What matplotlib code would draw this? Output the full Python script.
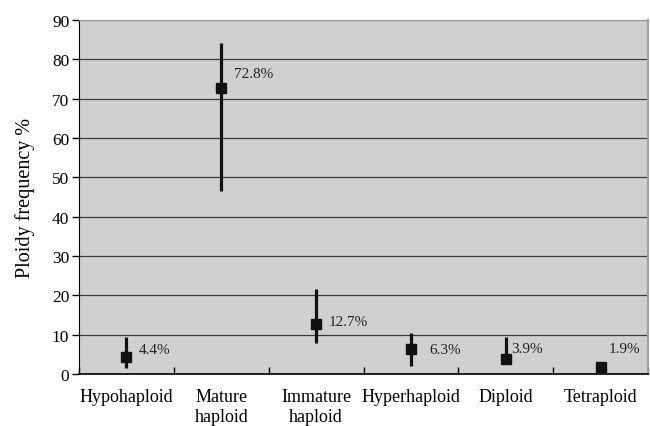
import numpy as np
import matplotlib.pyplot as plt

# data
categories = ['Hypohaploid', 'Mature\nhaploid', 'Immature\nhaploid',
              'Hyperhaploid', 'Diploid', 'Tetraploid']
freq = [4.4, 72.8, 12.7, 6.3, 3.9, 1.9]
low = [1.5, 46.5, 8.0, 2.1, 2.8, 1.2]
high = [9.5, 84.1, 21.6, 10.4, 9.3, 2.6]
labels = ['4.4%', '72.8%', '12.7%', '6.3%', '3.9%', '1.9%']

# label offsets in points (layout only)
lab_dx = [9, 9, 9, 13, 4, 6]
lab_dy = [5, 10, 2, 0, 7, 13]

plt.rcParams['font.family'] = ['Liberation Serif', 'DejaVu Serif']

fig = plt.figure(figsize=(6.5, 4.27), dpi=100)
ax = fig.add_axes([0.1215, 0.1218, 0.8755, 0.8292])
ax.set_facecolor('#d0d0d0')

x = np.arange(len(categories))
y = np.array(freq)
yerr = [y - np.array(low), np.array(high) - y]

ax.yaxis.grid(True, color='#3a3a3a', linewidth=0.9)
ax.set_axisbelow(True)

ax.errorbar(x, y, yerr=yerr, fmt='s', color='#111111', markersize=7.5,
            elinewidth=2.3, capsize=0, zorder=3)

for i in range(len(x)):
    ax.annotate(labels[i], (x[i], y[i]), xytext=(lab_dx[i], lab_dy[i]),
                textcoords='offset points', fontsize=11, color='#222222',
                va='center', ha='left')

ax.set_xlim(-0.5, 5.5)
ax.set_ylim(0, 90)
ax.set_yticks(range(0, 91, 10))
ax.set_xticks(np.arange(-0.5, 6, 1))
ax.set_xticklabels([])
ax.set_xticks(x, minor=True)
ax.set_xticklabels(categories, minor=True, fontsize=13, linespacing=1.25)
ax.tick_params(axis='x', which='minor', length=0, pad=10)
ax.tick_params(axis='x', which='major', length=5, direction='in', width=1)
ax.tick_params(axis='y', length=5, width=1, labelsize=12.5, pad=2)

ax.set_ylabel('Ploidy frequency %', fontsize=14.5, labelpad=12)

ax.spines['left'].set_color('black')
ax.spines['bottom'].set_color('black')
ax.spines['bottom'].set_linewidth(1.2)
ax.spines['top'].set_color('#a0a0a0')
ax.spines['right'].set_color('#a0a0a0')
ax.spines['right'].set_linewidth(1.5)

fig.savefig('out.png', dpi=100)
